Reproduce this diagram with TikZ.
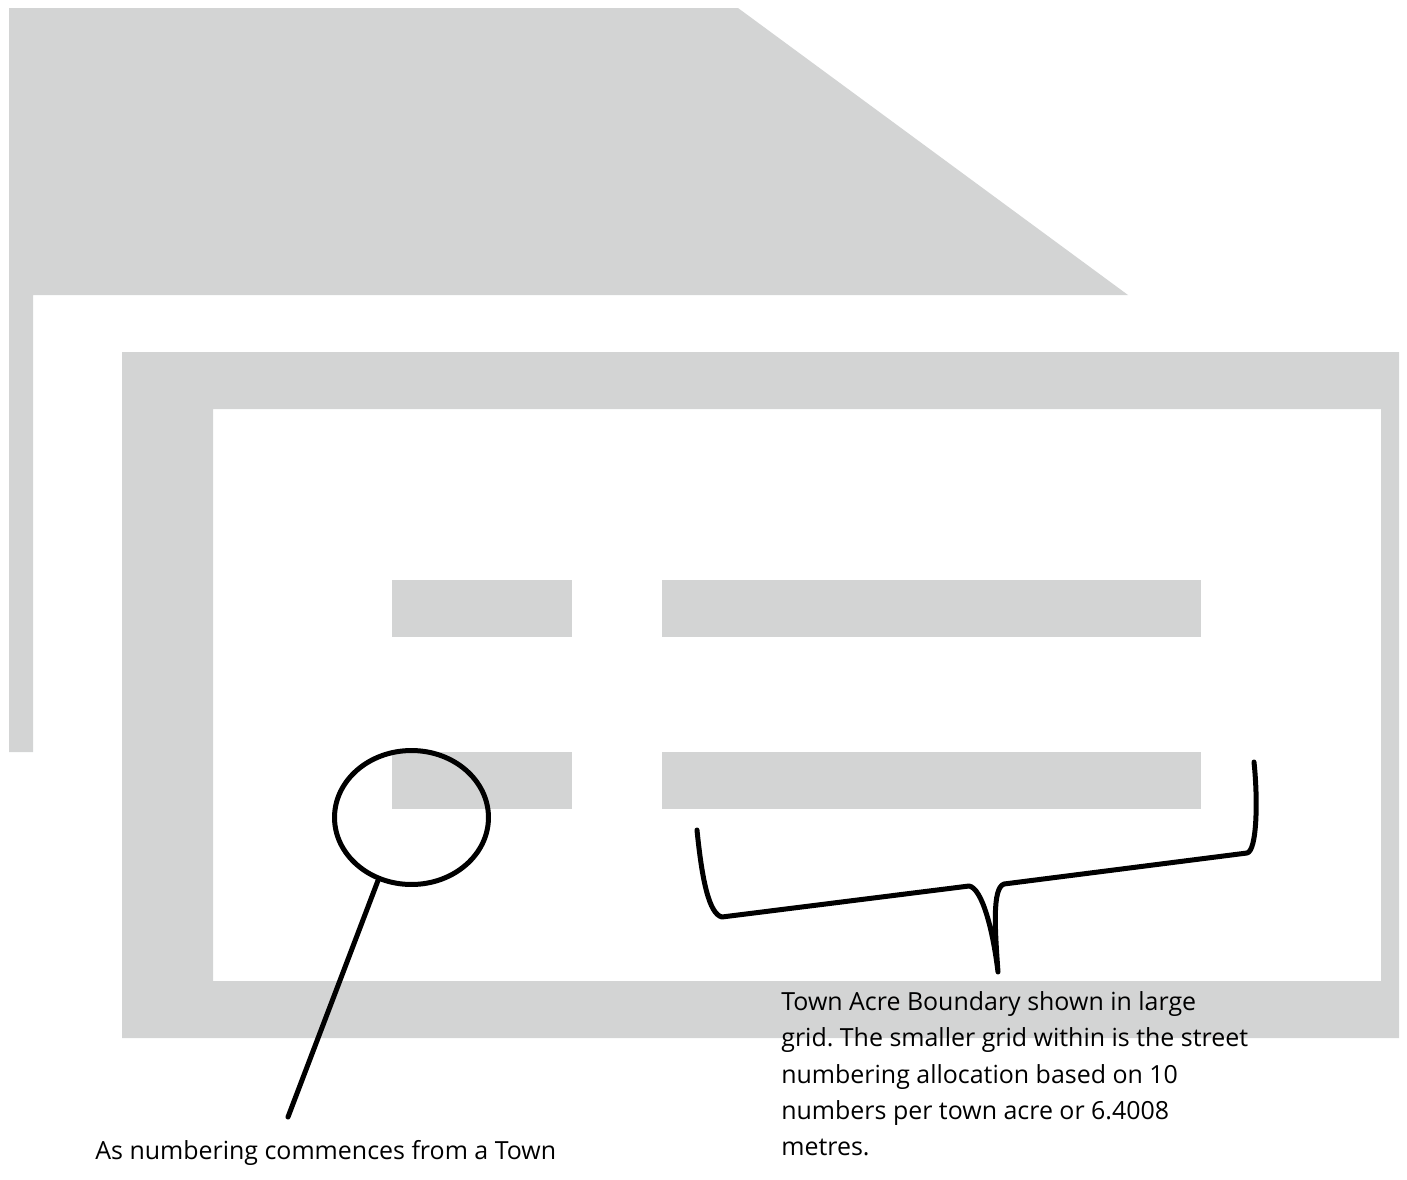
\documentclass[tikz,border=0pt]{standalone}
\usepackage{fontspec}
\setmainfont{Open Sans}
\usetikzlibrary{shapes.geometric,positioning}
\definecolor{acregrey}{RGB}{211,212,212}

\begin{document}
\frenchspacing
\begin{tikzpicture}[
    x=0.02cm, y=-0.02cm,
    pale/.style={fill=acregrey},
    ink/.style={line width=0.1cm, line cap=round, line join=round},
    ring/.style={ellipse, draw, ink, minimum width=3.08cm, minimum height=2.68cm, inner sep=0pt},
    note/.style={align=left, inner sep=0pt, font=\fontsize{14.2}{20.7}\selectfont}
]
\useasboundingbox (0,0) rectangle (1407,1180);

%% ── Grey background blocks ───────────────────────────────────────
\fill[pale] (9,8) -- (738,8) -- (1128,295) -- (33,295) -- (33,752) -- (9,752) -- cycle;
\fill[pale, even odd rule] (122,352) rectangle (1399,1038) (213,409) rectangle (1381,981);

%% ── Street number grid ───────────────────────────────────────────
\fill[pale] (392,580) rectangle (572,637);
\fill[pale] (662,580) rectangle (1201,637);
\fill[pale] (392,752) rectangle (572,809);
\fill[pale] (662,752) rectangle (1201,809);

%% ── Callout on the starting corner ───────────────────────────────
\node[ring] (start) at (411.5,817.5) {};
\coordinate (startend) at (288,1117);
\draw[ink] (start.242) -- (startend);
\node[note, anchor=west] (startnote) at (95,1153) {As numbering commences from a Town};

%% ── Brace under the town acre ────────────────────────────────────
\coordinate (braceleft)  at (697,830);
\coordinate (bracetip)   at (998,972);
\coordinate (braceright) at (1254,762);
\draw[ink] (braceleft) .. controls (702,880) and (709,914) .. (722,917)
    -- (969,886) .. controls (982,888) and (993,930) .. (bracetip)
    .. controls (995,930) and (992,888) .. (1004,884)
    -- (1247,853) .. controls (1257,851) and (1258,800) .. (braceright);
\node[note, anchor=north west] (acrenote) at (781,991)
    {Town Acre Boundary shown in large\\
     grid. The smaller grid within is the street\\
     numbering allocation based on 10\\
     numbers per town acre or 6.4008\\
     metres.};

\end{tikzpicture}
\end{document}
